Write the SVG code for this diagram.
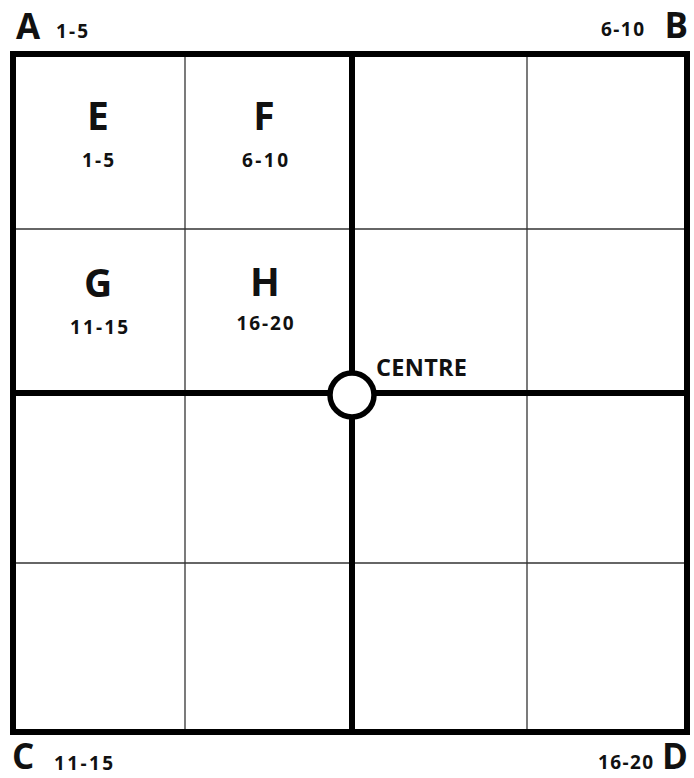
<svg xmlns="http://www.w3.org/2000/svg" width="694" height="778" viewBox="0 0 694 778">
<style>
.thin{stroke:#333;stroke-width:1.3;fill:none}
.thick{stroke:#000;stroke-width:6;fill:none}
text{font-family:"Open Sans","DejaVu Sans",sans-serif;font-weight:bold;fill:#111}
.big{font-size:35px}
.cell{font-size:39px;text-anchor:middle}
.num{font-size:19px;text-anchor:middle}
.cnum{font-size:19px}
</style>
<rect width="694" height="778" fill="#fff"/>
<g id="connectors">
<line class="thin" x1="185" y1="54" x2="185" y2="732"/>
<line class="thin" x1="527" y1="54" x2="527" y2="732"/>
<line class="thin" x1="13" y1="229" x2="687" y2="229"/>
<line class="thin" x1="13" y1="563" x2="687" y2="563"/>
<line class="thick" x1="352" y1="54" x2="352" y2="732"/>
<line class="thick" x1="13" y1="393" x2="687" y2="393"/>
<rect class="thick" x="13" y="54" width="674" height="678"/>
</g>
<g id="corner-A"><text class="big" x="16" y="39">A</text><text class="cnum" x="56" y="38" textLength="32">1-5</text></g>
<g id="corner-B"><text class="big" x="688" y="38" text-anchor="end">B</text><text class="cnum" x="601" y="36" textLength="43">6-10</text></g>
<g id="corner-C"><text class="big" x="12" y="769">C</text><text class="cnum" x="54" y="770" textLength="59">11-15</text></g>
<g id="corner-D"><text class="big" x="688" y="769" text-anchor="end">D</text><text class="cnum" x="598" y="769" textLength="55">16-20</text></g>
<g id="E"><text class="cell" x="98" y="130">E</text><text class="num" x="98" y="167" textLength="32">1-5</text></g>
<g id="F"><text class="cell" x="264" y="130">F</text><text class="num" x="265" y="167" textLength="46">6-10</text></g>
<g id="G"><text class="cell" x="98" y="297">G</text><text class="num" x="99" y="334" textLength="58">11-15</text></g>
<g id="H"><text class="cell" x="265" y="296">H</text><text class="num" x="265" y="330" textLength="57">16-20</text></g>
<g id="centre">
<circle cx="352" cy="395" r="22" fill="#fff" stroke="#000" stroke-width="5.5"/>
<text x="376" y="376" font-size="23.5" textLength="91">CENTRE</text>
</g>
</svg>
